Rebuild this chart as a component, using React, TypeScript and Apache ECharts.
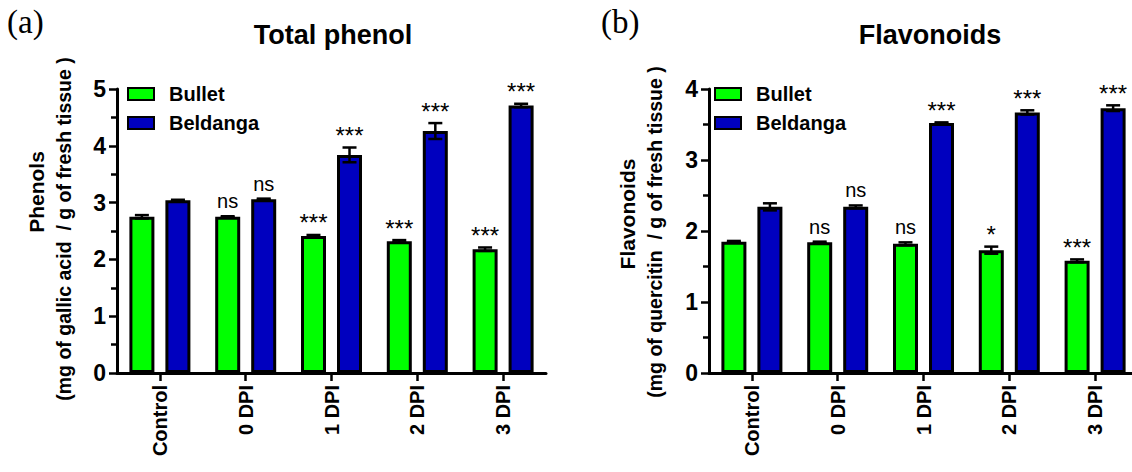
import React, { useEffect, useRef } from "react";
import * as echarts from "echarts";

const categories = ["Control", "0 DPI", "1 DPI", "2 DPI", "3 DPI"];
const seriesNames = ["Bullet", "Beldanga"];

const phenolBullet = [2.75, 2.75, 2.41, 2.32, 2.18];
const phenolBulletErr = [0.03, 0.01, 0.02, 0.02, 0.03];
const phenolBeldanga = [3.04, 3.06, 3.84, 4.26, 4.71];
const phenolBeldangaErr = [0.01, 0.01, 0.13, 0.14, 0.03];
const phenolBulletSig = ["", "ns", "***", "***", "***"];
const phenolBeldangaSig = ["", "ns", "***", "***", "***"];

const flavBullet = [1.85, 1.84, 1.82, 1.73, 1.58];
const flavBulletErr = [0.01, 0.01, 0.02, 0.05, 0.02];
const flavBeldanga = [2.34, 2.34, 3.52, 3.67, 3.73];
const flavBeldangaErr = [0.05, 0.02, 0.01, 0.03, 0.04];
const flavBulletSig = ["", "ns", "ns", "*", "***"];
const flavBeldangaSig = ["", "ns", "***", "***", "***"];

const GREEN = "#00FF00";
const BLUE = "#0000BF";
const FONT = "'Liberation Sans', Arial, sans-serif";

function errData(b: number[], bErr: number[], d: number[], dErr: number[]) {
  const out: number[][] = [];
  b.forEach((v, i) => out.push([i, v, bErr[i], 0]));
  d.forEach((v, i) => out.push([i, v, dErr[i], 1]));
  return out;
}

function makeRender(bSig: string[], dSig: string[]) {
  return (params: any, api: any) => {
    const cat = api.value(0);
    const val = api.value(1);
    const err = api.value(2);
    const side = api.value(3);
    const catW = api.size([1, 0])[0];
    const c = api.coord([cat, val]);
    const x = c[0] + (side ? 1 : -1) * catW * 0.21;
    const top = api.coord([cat, val + err])[1];
    const bot = api.coord([cat, val - err])[1];
    const hw = 7;
    const lineStyle = { stroke: "#000", lineWidth: 2.5 };
    const label = side ? dSig[cat] : bSig[cat];
    const children: any[] = [
      { type: "line", shape: { x1: x, y1: top, x2: x, y2: bot }, style: lineStyle },
      { type: "line", shape: { x1: x - hw, y1: top, x2: x + hw, y2: top }, style: lineStyle },
      { type: "line", shape: { x1: x - hw, y1: bot, x2: x + hw, y2: bot }, style: lineStyle },
    ];
    if (label) {
      const isStar = label.indexOf("*") >= 0;
      children.push({
        type: "text",
        x: x,
        y: top - (isStar ? 0 : 5),
        style: {
          text: label,
          fill: "#000",
          font: `${isStar ? 24 : 20}px ${FONT}`,
          textAlign: "center",
          textVerticalAlign: "bottom",
        },
      });
    }
    return { type: "group", children };
  };
}

function barSeries(name: string, data: number[], color: string, idx: number) {
  return {
    name,
    type: "bar",
    xAxisIndex: idx,
    yAxisIndex: idx,
    data,
    barWidth: 25,
    barGap: "44%",
    itemStyle: { color, borderColor: "#000", borderWidth: 3 },
  };
}

function xAxis(idx: number) {
  return {
    type: "category",
    gridIndex: idx,
    data: categories,
    axisLine: { show: true, lineStyle: { color: "#000", width: 3 } },
    axisTick: { show: true, alignWithLabel: true, length: 8, lineStyle: { color: "#000", width: 2.5 } },
    axisLabel: { rotate: 90, margin: 12, color: "#000", fontSize: 20, fontWeight: "bold", fontFamily: FONT },
  };
}

function yAxis(idx: number, max: number) {
  return {
    type: "value",
    gridIndex: idx,
    min: 0,
    max,
    interval: 1,
    splitLine: { show: false },
    axisLine: { show: true, lineStyle: { color: "#000", width: 3 } },
    axisTick: { show: true, length: 8, lineStyle: { color: "#000", width: 2.5 } },
    minorTick: { show: true, splitNumber: 2, length: 6, lineStyle: { color: "#000", width: 2.5 } },
    axisLabel: { margin: 11, color: "#000", fontSize: 23, fontWeight: "bold", fontFamily: FONT },
  };
}

function legend(left: number) {
  return {
    left,
    top: 84,
    padding: 0,
    orient: "vertical",
    data: seriesNames,
    icon: "rect",
    itemWidth: 26,
    itemHeight: 12,
    itemGap: 9,
    itemStyle: { borderColor: "#000", borderWidth: 2 },
    textStyle: { color: "#000", fontSize: 20, fontWeight: "bold", fontFamily: FONT, padding: [0, 0, 0, 10] },
    selectedMode: false,
  };
}

function vText(x: number, y: number, text: string, size: number) {
  return {
    type: "text",
    x,
    y,
    rotation: Math.PI / 2,
    style: {
      text,
      fill: "#000",
      font: `bold ${size}px ${FONT}`,
      textAlign: "center",
      textVerticalAlign: "middle",
    },
  };
}

export default function App() {
  const ref = useRef<HTMLDivElement>(null);
  useEffect(() => {
    if (!ref.current) return;
    const chart = echarts.init(ref.current, undefined, { renderer: "svg" });
    const option: any = {
      animation: false,
      backgroundColor: "#fff",
      grid: [
        { left: 117, top: 89, width: 429, height: 284, outerBoundsMode: "none" },
        { left: 709, top: 89, width: 429, height: 284, outerBoundsMode: "none" },
      ],
      xAxis: [xAxis(0), xAxis(1)],
      yAxis: [yAxis(0, 5), yAxis(1, 4)],
      legend: [legend(127), legend(714)],
      series: [
        barSeries("Bullet", phenolBullet, GREEN, 0),
        barSeries("Beldanga", phenolBeldanga, BLUE, 0),
        barSeries("Bullet", flavBullet, GREEN, 1),
        barSeries("Beldanga", flavBeldanga, BLUE, 1),
        {
          type: "custom",
          xAxisIndex: 0,
          yAxisIndex: 0,
          data: errData(phenolBullet, phenolBulletErr, phenolBeldanga, phenolBeldangaErr),
          renderItem: makeRender(phenolBulletSig, phenolBeldangaSig),
          z: 5,
          silent: true,
        },
        {
          type: "custom",
          xAxisIndex: 1,
          yAxisIndex: 1,
          data: errData(flavBullet, flavBulletErr, flavBeldanga, flavBeldangaErr),
          renderItem: makeRender(flavBulletSig, flavBeldangaSig),
          z: 5,
          silent: true,
        },
      ],
      graphic: [
        { type: "text", x: 7, y: 5, style: { text: "(a)", fill: "#000", font: `33px 'Liberation Serif', 'Times New Roman', serif` } },
        { type: "text", x: 601, y: 5, style: { text: "(b)", fill: "#000", font: `33px 'Liberation Serif', 'Times New Roman', serif` } },
        { type: "text", x: 333, y: 35, style: { text: "Total phenol", fill: "#000", font: `bold 27px ${FONT}`, textAlign: "center", textVerticalAlign: "middle" } },
        { type: "text", x: 930, y: 35, style: { text: "Flavonoids", fill: "#000", font: `bold 27px ${FONT}`, textAlign: "center", textVerticalAlign: "middle" } },
        vText(36, 192, "Phenols", 21),
        vText(64, 229, "(mg of gallic acid  / g of fresh tissue )", 19.5),
        vText(627, 214, "Flavonoids", 21),
        vText(655, 232, "(mg of quercitin  / g of fresh tissue )", 19.5),
      ],
    };
    chart.setOption(option);
    return () => chart.dispose();
  }, []);
  return (
    <div
      ref={ref}
      style={{ position: "fixed", left: 0, top: 0, width: 1132, height: 472, background: "#fff" }}
    />
  );
}
